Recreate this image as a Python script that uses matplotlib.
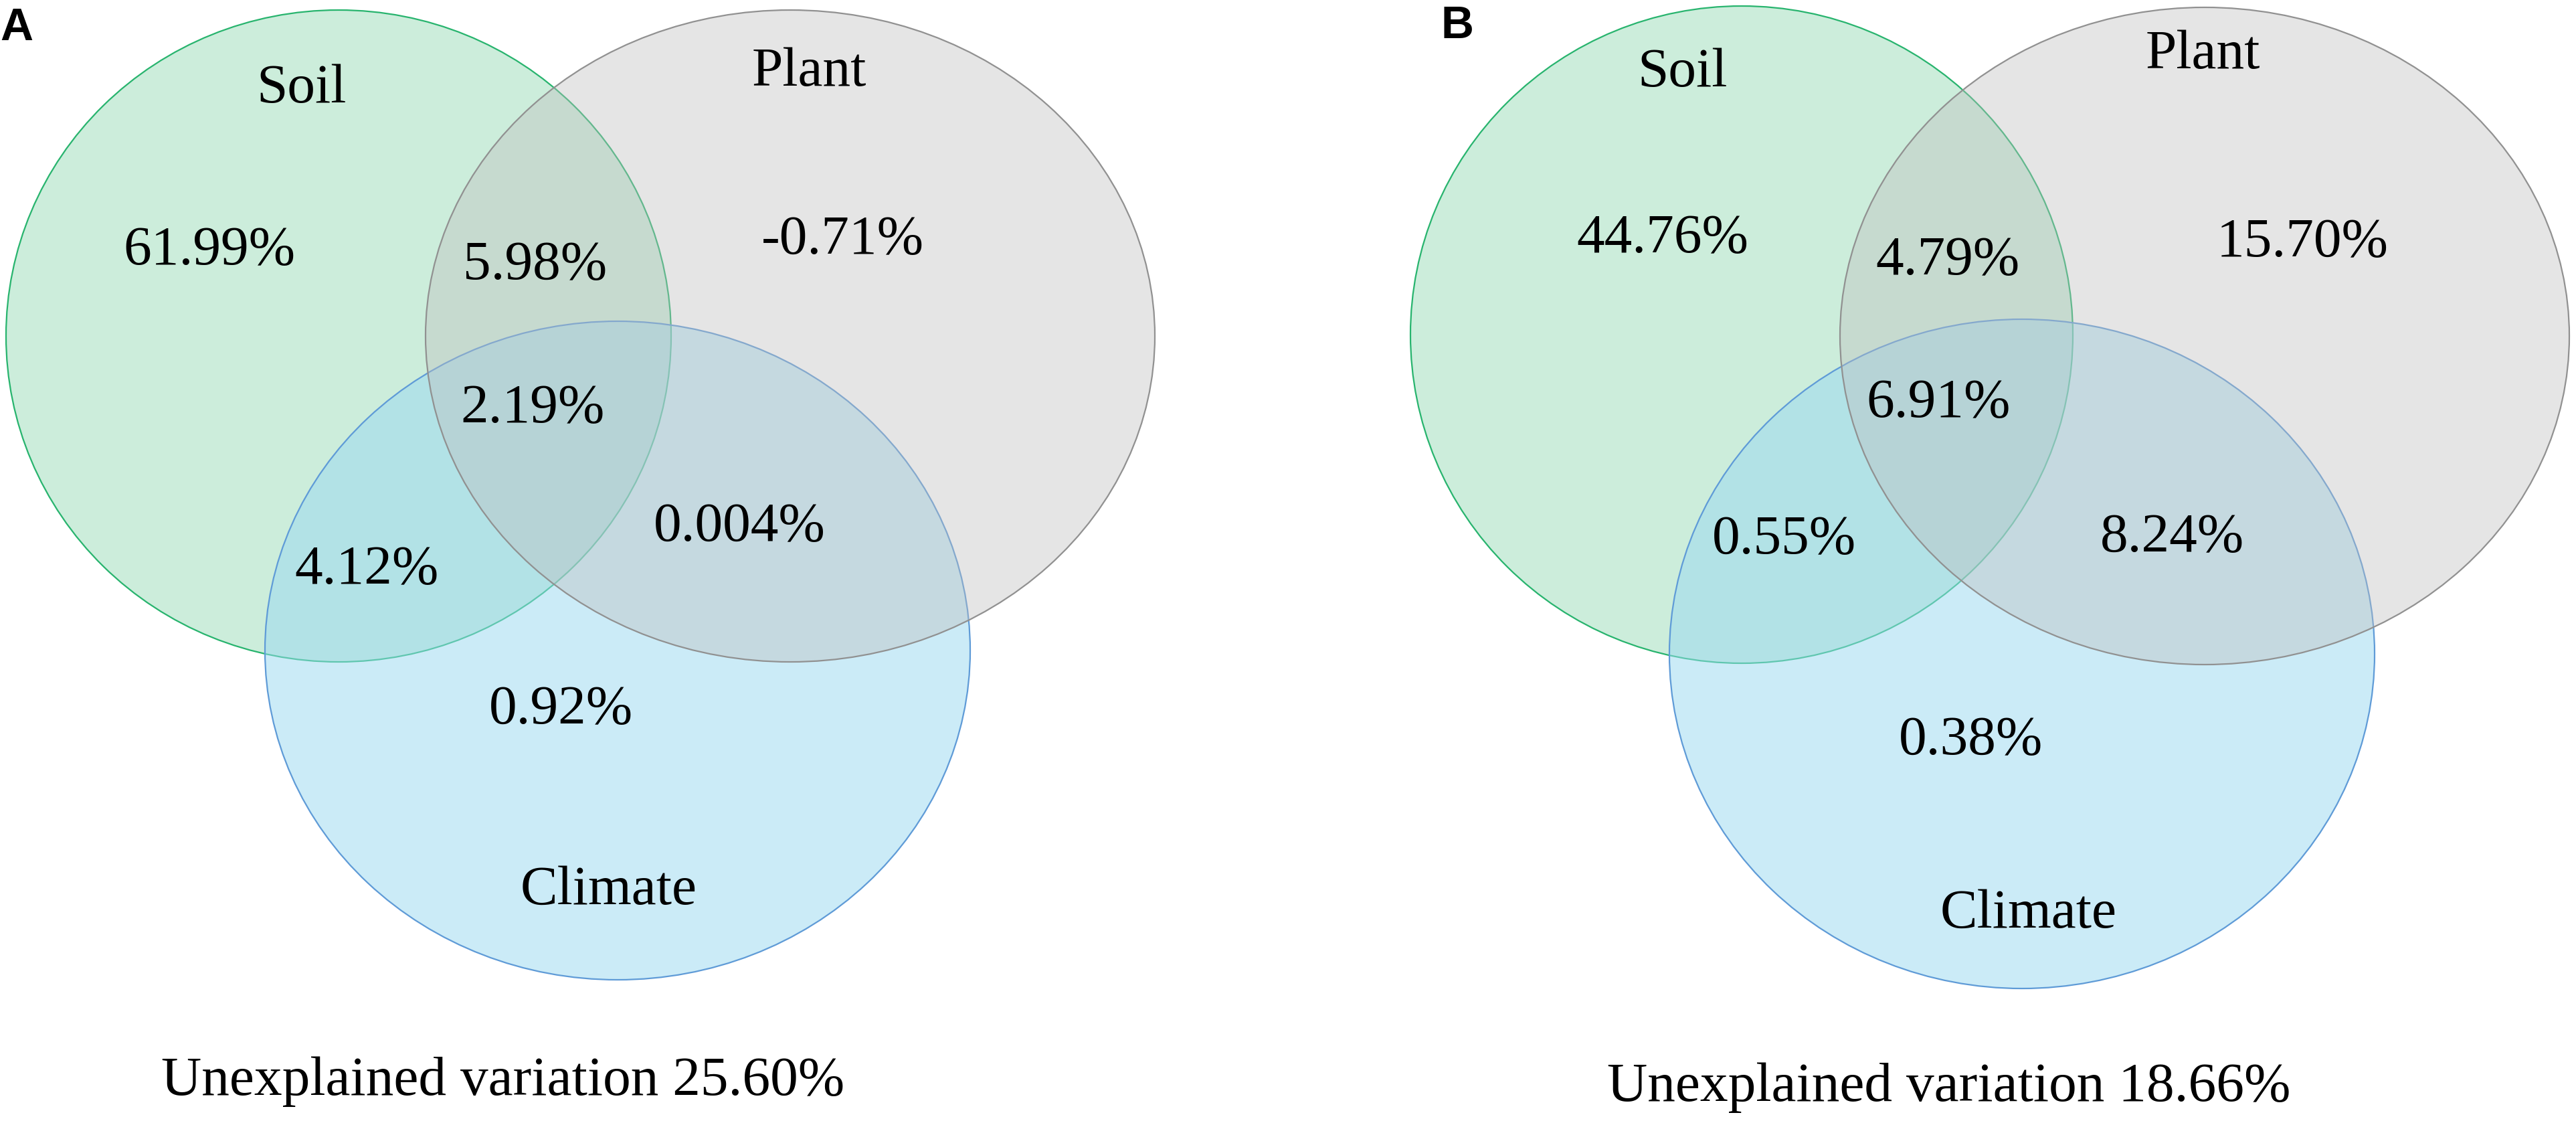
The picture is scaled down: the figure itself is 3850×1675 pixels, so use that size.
import matplotlib
matplotlib.use("Agg")
import matplotlib.pyplot as plt
from matplotlib.patches import Ellipse

# ---------------- data ----------------
panel_letters = ["A", "B"]
set_names = ["Soil", "Plant", "Climate"]
# region order: soil only, soil&plant, plant only, all three, soil&climate, plant&climate, climate only
region_keys = ["S", "SP", "P", "SPC", "SC", "PC", "C"]
values_A = ["61.99%", "5.98%", "-0.71%", "2.19%", "4.12%", "0.004%", "0.92%"]
values_B = ["44.76%", "4.79%", "15.70%", "6.91%", "0.55%", "8.24%", "0.38%"]
unexplained_A = "25.60%"
unexplained_B = "18.66%"

# ---------------- layout (pixel coordinates, y downwards) ----------------
W, H = 3850, 1675
DPI = 100

geom = {
    "A": {
        "ellipses": {  # center x, center y, rx, ry
            "Soil": (506, 502, 497, 487),
            "Plant": (1181, 502, 545, 487),
            "Climate": (923, 972, 527, 492),
        },
        "labels": {"Soil": (451, 153), "Plant": (1209, 128), "Climate": (910, 1351)},
        "regions": {"S": (313, 395), "SP": (800, 417), "P": (1259, 379),
                    "SPC": (796, 631), "SC": (548, 872), "PC": (1105, 808),
                    "C": (838, 1081)},
        "unexplained": (752, 1636),
        "letter": (0, 60),
    },
    "B": {
        "ellipses": {
            "Soil": (2603, 500, 495, 491),
            "Plant": (3295, 502, 545, 491),
            "Climate": (3022, 977, 527, 500),
        },
        "labels": {"Soil": (2515, 129), "Plant": (3292, 102), "Climate": (3032, 1386)},
        "regions": {"S": (2485, 377), "SP": (2911, 410), "P": (3441, 383),
                    "SPC": (2897, 623), "SC": (2666, 827), "PC": (3246, 824),
                    "C": (2946, 1127)},
        "unexplained": (2913, 1645),
        "letter": (2153, 57),
    },
}

# drawing order: soil, climate, plant (plant on top)
draw_order = ["Soil", "Climate", "Plant"]
face = {
    "Soil": (155/255, 221/255, 185/255, 0.5),
    "Climate": (153/255, 217/255, 241/255, 0.5),
    "Plant": (190/255, 190/255, 190/255, 0.4),
}
edge = {
    "Soil": (40/255, 180/255, 110/255),
    "Climate": (95/255, 155/255, 215/255),
    "Plant": (145/255, 145/255, 145/255),
}

SERIF = ["Liberation Serif", "DejaVu Serif"]
SANS = ["Liberation Sans", "DejaVu Sans"]
FS = 60

fig = plt.figure(figsize=(W / DPI, H / DPI), dpi=DPI)
fig.patch.set_facecolor("white")
ax = fig.add_axes([0, 0, 1, 1])
ax.set_xlim(0, W)
ax.set_ylim(H, 0)
ax.axis("off")

panels = {"A": (values_A, unexplained_A), "B": (values_B, unexplained_B)}

for letter in panel_letters:
    g = geom[letter]
    vals, unexp = panels[letter]
    for name in draw_order:
        cx, cy, rx, ry = g["ellipses"][name]
        ax.add_patch(Ellipse((cx, cy), 2 * rx, 2 * ry, facecolor=face[name],
                             edgecolor=edge[name], linewidth=1.6, zorder=2))
    for name in set_names:
        x, y = g["labels"][name]
        ax.text(x, y, name, ha="center", va="baseline", fontsize=FS,
                family=SERIF, color="black", zorder=5)
    for key, val in zip(region_keys, vals):
        x, y = g["regions"][key]
        ax.text(x, y, val, ha="center", va="baseline", fontsize=FS,
                family=SERIF, color="black", zorder=5)
    ux, uy = g["unexplained"]
    ax.text(ux, uy, "Unexplained variation " + unexp, ha="center", va="baseline",
            fontsize=FS, family=SERIF, color="black", zorder=5)
    lx, ly = g["letter"]
    ax.text(lx, ly, letter, ha="left", va="baseline", fontsize=49,
            family=SANS, fontweight="bold", color="black", zorder=5)

fig.savefig("out.png", dpi=DPI, facecolor="white")
